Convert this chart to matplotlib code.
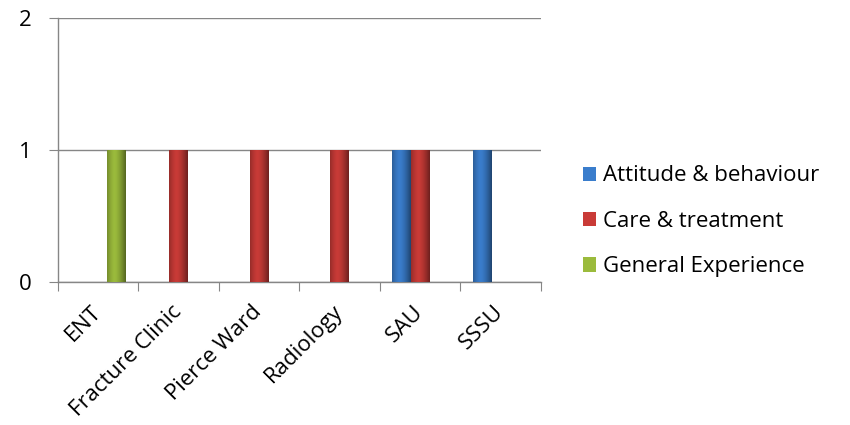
import numpy as np
import matplotlib
matplotlib.use("Agg")
import matplotlib.pyplot as plt
from matplotlib.colors import to_rgb

plt.rcParams['font.family'] = ['Open Sans', 'DejaVu Sans']

categories = ["ENT", "Fracture Clinic", "Pierce Ward", "Radiology", "SAU", "SSSU"]
series = ["Attitude & behaviour", "Care & treatment", "General Experience"]
attitude = [0, 0, 0, 0, 1, 1]
care = [0, 1, 1, 1, 1, 0]
general = [1, 0, 0, 0, 0, 0]
colors = ["#3a7dcc", "#c93b37", "#9bbb3c"]

FS = 16


def shade(ax, patch, col):
    # cylinder-ish horizontal gradient like the old excel bars
    x0, y0 = patch.get_x(), patch.get_y()
    w, h = patch.get_width(), patch.get_height()
    if h <= 0:
        return
    t = np.linspace(0, 1, 64)
    k = 1 - 0.45 * np.abs(t - 0.4) ** 1.5 * 2.2
    k = np.clip(k, 0.55, 1.08)
    base = np.array(to_rgb(col))
    img = np.clip(base[None, :] * k[:, None], 0, 1)[None, :, :]
    im = ax.imshow(img, extent=(x0, x0 + w, y0, y0 + h), aspect='auto',
                   zorder=patch.get_zorder() + 0.1, interpolation='bilinear')
    im.set_clip_path(patch)


fig = plt.figure(figsize=(8.5, 4.25), dpi=100)
ax = fig.add_axes([0.068, 0.336, 0.568, 0.622])

x = np.arange(len(categories))
w = 0.23
vals = [attitude, care, general]
for i, (name, v, c) in enumerate(zip(series, vals, colors)):
    bars = ax.bar(x + (i - 1) * w, v, w, color=c, label=name, zorder=3,
                  edgecolor='none')
    for b in bars:
        shade(ax, b, c)

ax.set_xlim(-0.5, len(categories) - 0.5)
ax.set_ylim(0, 2)
ax.set_yticks([0, 1, 2])
ax.set_xticks(np.arange(-0.5, len(categories), 1), minor=False)
ax.set_xticklabels([])
ax.set_xticks(x, minor=True)
ax.set_xticklabels(categories, minor=True, rotation=45, ha='right', va='center',
                   rotation_mode='anchor', fontsize=FS)
ax.tick_params(axis='x', which='minor', length=0, pad=19)
ax.tick_params(axis='x', which='major', length=6.5, color='#868686', direction='out')
ax.tick_params(axis='y', length=6.5, color='#868686', direction='out', labelsize=FS, pad=12)

ax.grid(axis='y', color='#868686', linewidth=1, zorder=0)
for s in ['top', 'right']:
    ax.spines[s].set_visible(False)
for s in ['left', 'bottom']:
    ax.spines[s].set_color('#868686')
    ax.spines[s].set_linewidth(1)
ax.set_axisbelow(True)

leg = ax.legend(loc='center left', bbox_to_anchor=(1.087, 0.23), frameon=False,
                fontsize=FS, handlelength=0.6, handleheight=0.6,
                handletextpad=0.3, labelspacing=1.1, borderpad=0, borderaxespad=0)

fig.savefig("out.png", dpi=100)
